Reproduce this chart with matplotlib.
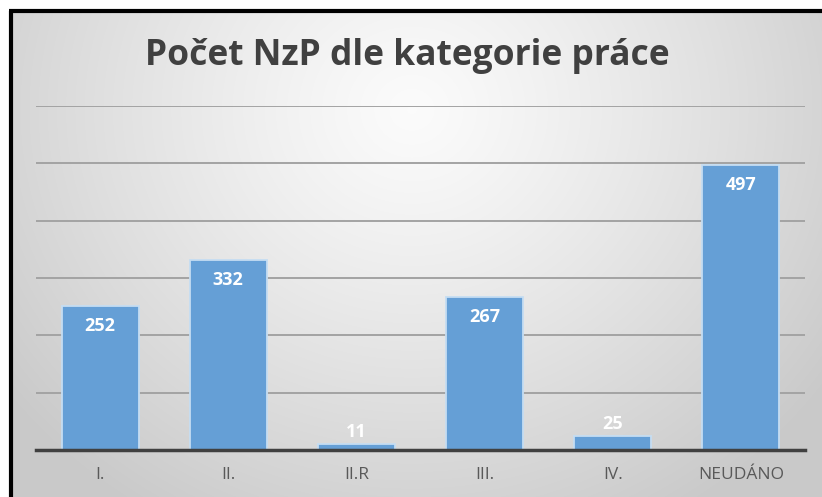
import numpy as np
import matplotlib
matplotlib.use("Agg")
import matplotlib.pyplot as plt
from matplotlib.patches import Rectangle

categories = ["I.", "II.", "II.R", "III.", "IV.", "NEUDÁNO"]
values = [252, 332, 11, 267, 25, 497]
title = "Počet NzP dle kategorie práce"

W, H = 822, 497
fig = plt.figure(figsize=(W / 100, H / 100), dpi=100)

# background radial gradient
bg = fig.add_axes([0, 0, 1, 1])
yy, xx = np.mgrid[0:H, 0:W]
cx, cy = W * 0.5, H * 0.22
r = np.sqrt(((xx - cx) / (W * 0.62)) ** 2 + ((yy - cy) / (H * 0.95)) ** 2)
r = np.clip(r, 0, 1)
lum = 0.985 - (0.985 - 0.79) * r ** 1.2
img = np.dstack([lum, lum, lum])
bg.imshow(img, extent=[0, W, H, 0], aspect="auto", interpolation="bilinear")
bg.set_xlim(0, W)
bg.set_ylim(H, 0)
bg.axis("off")
# black frame at left and top
bg.add_patch(Rectangle((0, 0), 9, H, color="white", zorder=3))
bg.add_patch(Rectangle((0, 0), W, 10, color="white", zorder=3))
bg.plot([10.5, 10.5], [H, 11], color="black", lw=3, solid_capstyle="butt", zorder=4)
bg.plot([9, W], [11, 11], color="black", lw=3, solid_capstyle="butt", zorder=4)

# plot area
left, right = 36, 805
top, bottom = 106, 450
ax = fig.add_axes([left / W, 1 - bottom / H, (right - left) / W, (bottom - top) / H])
ax.patch.set_alpha(0)
x = np.arange(len(categories))
bars = ax.bar(x, values, width=0.6, color="#659FD6", edgecolor="#C5DDF2", linewidth=1.3, zorder=3)
ax.set_xlim(-0.5, len(categories) - 0.5)
ax.set_ylim(0, 600)
ax.set_yticks(np.arange(0, 601, 100))
ax.yaxis.grid(True, color="#A3A3A3", lw=1.4, zorder=0)
ax.set_axisbelow(True)
ax.tick_params(axis="y", left=False, labelleft=False)
ax.tick_params(axis="x", bottom=False, labelsize=12.5, labelcolor="#595959", pad=9)
ax.set_xticks(x)
ax.set_xticklabels(categories, fontfamily="Open Sans")
for s in ["top", "right", "left"]:
    ax.spines[s].set_visible(False)
ax.spines["bottom"].set_color("#404040")
ax.spines["bottom"].set_linewidth(2.5)
ax.spines["bottom"].set_zorder(5)

for xi, v in zip(x, values):
    if v > 60:
        ax.annotate(str(v), (xi, v), xytext=(0, -8), textcoords="offset points",
                    ha="center", va="top", color="white", fontsize=13, fontweight="bold",
                    fontfamily="Open Sans", zorder=6)
    else:
        ax.annotate(str(v), (xi, v), xytext=(0, 2), textcoords="offset points",
                    ha="center", va="bottom", color="white", fontsize=13, fontweight="bold",
                    fontfamily="Open Sans", zorder=6)

fig.text(0.496, 1 - 56 / H, title, ha="center", va="center", fontsize=25.5,
         fontweight="bold", color="#404040", fontfamily="Open Sans")

fig.savefig("out.png", dpi=100)
